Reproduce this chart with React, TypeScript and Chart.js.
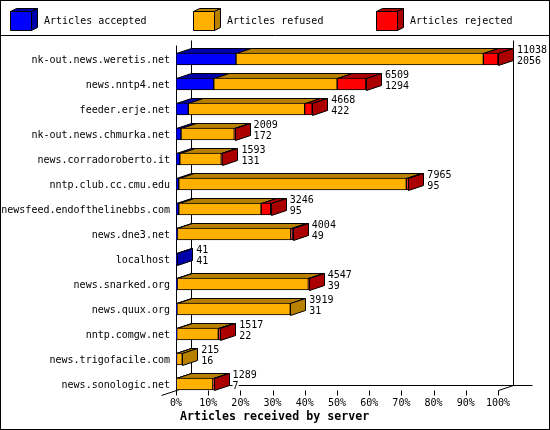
import React, { useEffect, useRef } from 'react';
import { Chart, registerables } from 'chart.js';

Chart.register(...registerables);

const servers = [
    'nk-out.news.weretis.net',
    'news.nntp4.net',
    'feeder.erje.net',
    'nk-out.news.chmurka.net',
    'news.corradoroberto.it',
    'nntp.club.cc.cmu.edu',
    'newsfeed.endofthelinebbs.com',
    'news.dne3.net',
    'localhost',
    'news.snarked.org',
    'news.quux.org',
    'nntp.comgw.net',
    'news.trigofacile.com',
    'news.sonologic.net',
];
const received = [11038, 6509, 4668, 2009, 1593, 7965, 3246, 4004, 41, 4547, 3919, 1517, 215, 1289];
const accepted = [2056, 1294, 422, 172, 131, 95, 95, 49, 41, 39, 31, 22, 16, 7];
const refused = [8480, 4230, 3990, 1827, 1422, 7800, 2822, 3885, 0, 4498, 3888, 1428, 199, 1257];
const rejected = [502, 985, 256, 10, 40, 70, 329, 70, 0, 10, 0, 67, 0, 25];
const xTickLabels = ['0%', '10%', '20%', '30%', '40%', '50%', '60%', '70%', '80%', '90%', '100%'];

const seriesNames = ['Articles accepted', 'Articles refused', 'Articles rejected'];
const seriesValues = [accepted, refused, rejected];
const frontColors = ['#0000ff', '#ffb000', '#ff0000'];
const darkColors = ['#0000aa', '#b88000', '#aa0000'];

const DX = 15; // 3d depth
const DY = 5;
const HALF = 6; // half bar thickness
const FONT = '11px "DejaVu Sans Mono", monospace';
const BOLD = 'bold 12px "DejaVu Sans Mono", monospace';
const SQUEEZE = 0.91; // narrow the glyphs to ~6px per char like the gd font

const px = (v: number) => Math.round(v) + 0.5;

function line(ctx: CanvasRenderingContext2D, x1: number, y1: number, x2: number, y2: number) {
    ctx.beginPath();
    ctx.moveTo(px(x1), px(y1));
    ctx.lineTo(px(x2), px(y2));
    ctx.stroke();
}

function poly(ctx: CanvasRenderingContext2D, pts: number[][], fill: string) {
    ctx.beginPath();
    pts.forEach(([a, b], i) => (i ? ctx.lineTo(px(a), px(b)) : ctx.moveTo(px(a), px(b))));
    ctx.closePath();
    ctx.fillStyle = fill;
    ctx.fill();
    ctx.stroke();
}

function text(ctx: CanvasRenderingContext2D, t: string, x: number, y: number, align: CanvasTextAlign, squeeze = SQUEEZE) {
    ctx.save();
    ctx.translate(x, y);
    ctx.scale(squeeze, 1);
    ctx.textAlign = align;
    ctx.fillText(t, 0, 0);
    ctx.restore();
}

const threeD = {
    id: 'threeD',
    beforeDatasetsDraw(chart: any) {
        const ctx: CanvasRenderingContext2D = chart.ctx;
        const x = chart.scales.x;
        const y = chart.scales.y;
        const x0 = x.getPixelForValue(0);
        const x1 = x.getPixelForValue(x.max);
        const floor = y.getPixelForValue(servers.length - 1) + HALF;
        const frontTop = y.getPixelForValue(0) - 14;
        const backTop = frontTop - DY;

        ctx.save();
        ctx.strokeStyle = '#000';
        ctx.lineWidth = 1;
        // walls and floor
        line(ctx, x0, frontTop, x0, floor);
        line(ctx, x0 + DX, backTop, x0 + DX, floor - DY);
        line(ctx, x1 + DX, backTop, x1 + DX, floor - DY);
        line(ctx, x0 + DX, floor - DY, x1 + DX + 19, floor - DY);
        line(ctx, x0 - DX, floor + DY, x0 + DX, floor - DY);
        line(ctx, x1, floor, x1 + DX, floor - DY);
        xTickLabels.forEach((_, i) => {
            const tx = x.getPixelForValue((x.max * i) / 10);
            line(ctx, tx, floor, tx, floor + 5);
        });

        // top and side faces
        servers.forEach((_, i) => {
            const cy = y.getPixelForValue(i);
            const top = cy - HALF;
            const bottom = cy + HALF;
            let cum = 0;
            let last = -1;
            seriesValues.forEach((vals, s) => {
                const v = vals[i];
                if (!v) return;
                const a = x.getPixelForValue(cum);
                const b = x.getPixelForValue(cum + v);
                poly(ctx, [[a, top], [b, top], [b + DX, top - DY], [a + DX, top - DY]], darkColors[s]);
                cum += v;
                last = s;
            });
            if (last >= 0) {
                const e = x.getPixelForValue(cum);
                poly(ctx, [[e, top], [e + DX, top - DY], [e + DX, bottom - DY], [e, bottom]], darkColors[last]);
            }
        });
        ctx.restore();
    },
    afterDatasetsDraw(chart: any) {
        const ctx: CanvasRenderingContext2D = chart.ctx;
        const x = chart.scales.x;
        const y = chart.scales.y;
        const floor = y.getPixelForValue(servers.length - 1) + HALF;
        ctx.save();
        ctx.textBaseline = 'middle';
        ctx.font = FONT;
        ctx.fillStyle = '#000';

        // category labels
        servers.forEach((name, i) => {
            text(ctx, name, 170, y.getPixelForValue(i) + 1, 'right');
        });

        // value labels
        servers.forEach((_, i) => {
            const cy = y.getPixelForValue(i);
            const lx = x.getPixelForValue(received[i]) + DX + 4;
            const lines = [String(received[i]), String(accepted[i])];
            lines.forEach((t, k) => {
                const ly = cy - 9 + k * 11;
                const w = ctx.measureText(t).width * SQUEEZE;
                ctx.fillStyle = '#fff';
                ctx.fillRect(lx, ly - 5, w, 10);
                ctx.fillStyle = '#000';
                text(ctx, t, lx, ly, 'left');
            });
        });

        // x tick labels
        xTickLabels.forEach((t, i) => {
            text(ctx, t, x.getPixelForValue((x.max * i) / 10), floor + 13, 'center');
        });

        // axis title
        ctx.font = BOLD;
        text(ctx, 'Articles received by server', 180, floor + 27, 'left', 0.97);

        // legend
        ctx.font = FONT;
        ctx.strokeStyle = '#000';
        ctx.lineWidth = 1;
        const legendX = [10, 193, 376];
        seriesNames.forEach((name, s) => {
            const lx = legendX[s];
            poly(ctx, [[lx, 11], [lx + 21, 11], [lx + 27, 8], [lx + 6, 8]], darkColors[s]);
            poly(ctx, [[lx + 21, 11], [lx + 27, 8], [lx + 27, 27], [lx + 21, 30]], darkColors[s]);
            poly(ctx, [[lx, 11], [lx + 21, 11], [lx + 21, 30], [lx, 30]], frontColors[s]);
            ctx.fillStyle = '#000';
            text(ctx, name, lx + 34, 21, 'left');
        });
        line(ctx, 0, 35, 550, 35);
        ctx.strokeRect(0.5, 0.5, 549, 429);
        ctx.restore();
    },
};

const App: React.FC = () => {
    const chartRef = useRef<HTMLCanvasElement | null>(null);

    useEffect(() => {
        document.body.style.margin = '0';
        const ctx = chartRef.current?.getContext('2d');
        if (!ctx) {
            return;
        }

        const chart = new Chart(ctx, {
            type: 'bar',
            data: {
                labels: servers,
                datasets: seriesNames.map((name, s) => ({
                    label: name,
                    data: seriesValues[s].map((v) => (v > 0 ? v : null)),
                    backgroundColor: frontColors[s],
                    borderColor: '#000',
                    borderWidth: 1,
                    borderSkipped: false,
                    barThickness: 12,
                })),
            },
            options: {
                indexAxis: 'y',
                responsive: false,
                devicePixelRatio: 1,
                animation: false,
                layout: {
                    padding: { left: 176, right: 52, top: 46.5, bottom: 33.5 },
                },
                scales: {
                    x: { type: 'linear', stacked: true, min: 0, max: Math.max(...received), display: false },
                    y: { type: 'category', stacked: true, display: false },
                },
                plugins: {
                    legend: { display: false },
                    tooltip: { enabled: false },
                },
            },
            plugins: [threeD],
        });

        return () => {
            chart.destroy();
        };
    }, []);

    return (
        <div style={{ width: 550, height: 430, background: '#fff' }}>
            <canvas ref={chartRef} width={550} height={430} style={{ display: 'block' }} />
        </div>
    );
};

export default App;
